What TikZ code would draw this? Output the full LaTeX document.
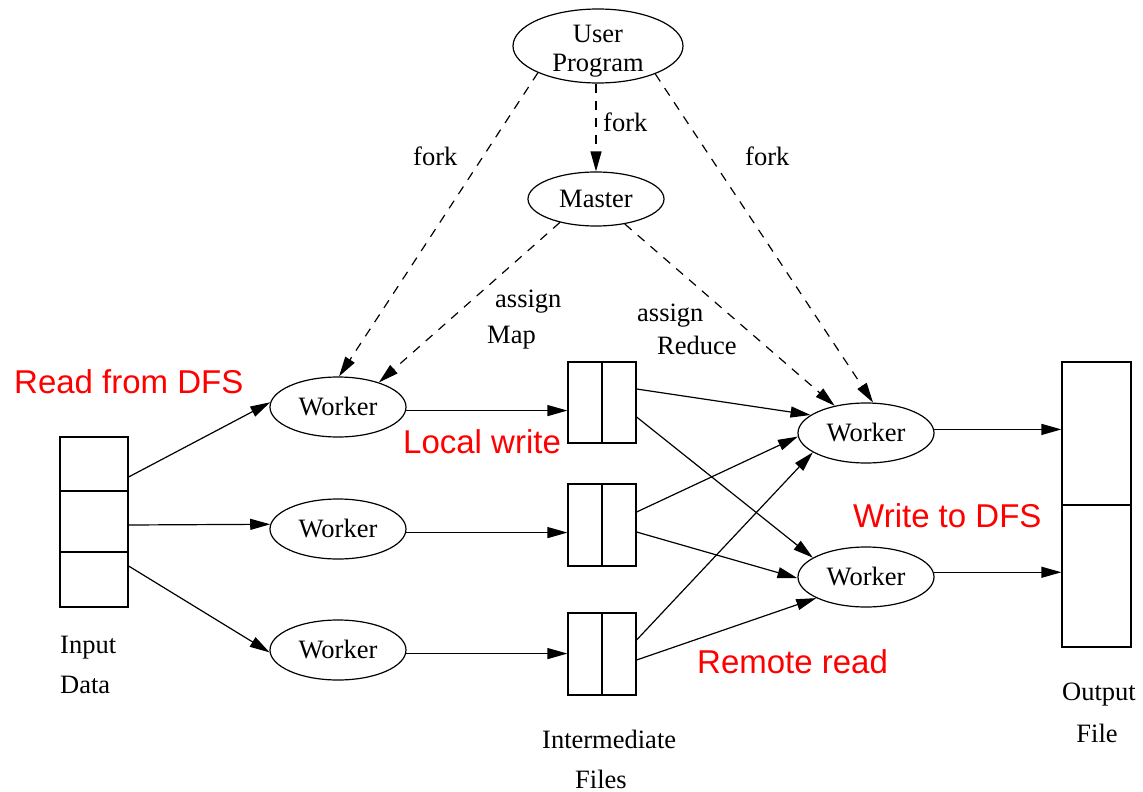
\documentclass[tikz,border=0pt]{standalone}
\usepackage{fontspec}
\setmainfont{Liberation Serif}
\newfontfamily\labsans{Liberation Sans}
\usetikzlibrary{shapes.geometric,arrows.meta,calc}
\begin{document}
\begin{tikzpicture}[x=1pt,y=-1pt,
  oval/.style={ellipse, draw, line width=1.2pt, inner sep=0pt, font=\fontsize{26.5}{29}\selectfont},
  worker/.style={oval, minimum width=136pt, minimum height=60pt},
  cell/.style={rectangle, draw, line width=1.2pt, inner sep=0pt},
  txt/.style={font=\fontsize{26.5}{29}\selectfont, inner sep=0pt, anchor=base west},
  redlab/.style={font=\labsans\fontsize{33}{36}\selectfont, text=red, inner sep=0pt, anchor=base west},
  arr/.style={-{Triangle[length=20pt,width=11pt]}, line width=1.2pt},
  darr/.style={arr, dash pattern=on 9pt off 8pt}]
\useasboundingbox (0,0) rectangle (1143,792);
\fill[white] (0,0) rectangle (1143,792);

% ellipses
\node[oval, minimum width=170pt, minimum height=74pt, align=center, text height=52pt, text depth=0pt] (user) at (598,46) {User\\Program};
\node[oval, minimum width=136pt, minimum height=54pt] (master) at (596,199) {Master};
\node[worker] (lw1) at (338,407) {Worker};
\node[worker] (lw2) at (338,529) {Worker};
\node[worker] (lw3) at (338,650) {Worker};
\node[worker] (rw1) at (866,433) {Worker};
\node[worker] (rw2) at (866,577) {Worker};

% input data
\node[cell, minimum width=68pt, minimum height=54pt] (in1) at (94,464) {};
\node[cell, minimum width=68pt, minimum height=61pt] (in2) at (94,521.5) {};
\node[cell, minimum width=68pt, minimum height=55pt] (in3) at (94,579.5) {};

% intermediate files
\node[cell, minimum width=68pt, minimum height=81pt] (im1) at (602,402.5) {};
\node[cell, minimum width=68pt, minimum height=82pt] (im2) at (602,525) {};
\node[cell, minimum width=68pt, minimum height=82pt] (im3) at (602,654) {};
\draw[line width=1.2pt] (im1.north) -- (im1.south);
\draw[line width=1.2pt] (im2.north) -- (im2.south);
\draw[line width=1.2pt] (im3.north) -- (im3.south);

% output file
\node[cell, minimum width=69pt, minimum height=143pt] (out1) at (1096.5,433.5) {};
\node[cell, minimum width=69pt, minimum height=142pt] (out2) at (1096.5,576) {};

% dashed control edges
\draw[darr] (user.204) -- (lw1.88);
\draw[darr] (master.north |- user.south) -- (master.north);
\draw[darr] (user.334) -- (rw1.77);
\draw[darr] (master.213) -- (lw1.31);
\draw[darr] (master.319) -- (rw1.139);

% data edges
\draw[arr] ($(in1.east)+(0,13)$) -- (lw1.176);
\draw[arr] ($(in2.east)+(0,3.5)$) -- (lw2.176);
\draw[arr] ($(in3.east)+(0,-13.5)$) -- (lw3.182);
\draw[arr] (lw1.357) -- (lw1.357 -| im1.west);
\draw[arr] (lw2.357) -- (lw2.357 -| im2.west);
\draw[arr] (lw3.357) -- (lw3.357 -| im3.west);
\draw[arr] ($(im1.east)+(0,-13.5)$) -- (rw1.162);
\draw[arr] ($(im1.east)+(0,14.5)$) -- (rw2.160);
\draw[arr] ($(im2.east)+(0,-13)$) -- (rw1.183);
\draw[arr] ($(im2.east)+(0,7)$) -- (rw2.181);
\draw[arr] ($(im3.east)+(0,-14)$) -- (rw1.200);
\draw[arr] ($(im3.east)+(0,6)$) -- (rw2.203);
\draw[arr] (rw1.3) -- (rw1.3 -| out1.west);
\draw[arr] (rw2.4) -- (rw2.4 -| out2.west);

% labels
\node[txt] (tforkm) at (603,131) {fork};
\node[txt] (tforkl) at (413,165) {fork};
\node[txt] (tforkr) at (745,165) {fork};
\node[txt] (tas1) at (495,307) {assign};
\node[txt] (tmap) at (487,343) {Map};
\node[txt] (tas2) at (637,321) {assign};
\node[txt] (tred) at (657,354) {Reduce};
\node[txt] (tinput) at (60,653) {Input};
\node[txt] (tdata) at (60,693) {Data};
\node[txt] (tinter) at (542,748) {Intermediate};
\node[txt] (tfiles) at (575,788) {Files};
\node[txt, anchor=base] (toutput) at (1099,700) {Output};
\node[txt, anchor=base] (tfile) at (1097,742) {File};

\node[redlab] (rread) at (14,393) {Read from DFS};
\node[redlab] (rlocal) at (403,453) {Local write};
\node[redlab] (rwrite) at (853,527) {Write to DFS};
\node[redlab] (rremote) at (697,673) {Remote read};
\end{tikzpicture}
\end{document}
